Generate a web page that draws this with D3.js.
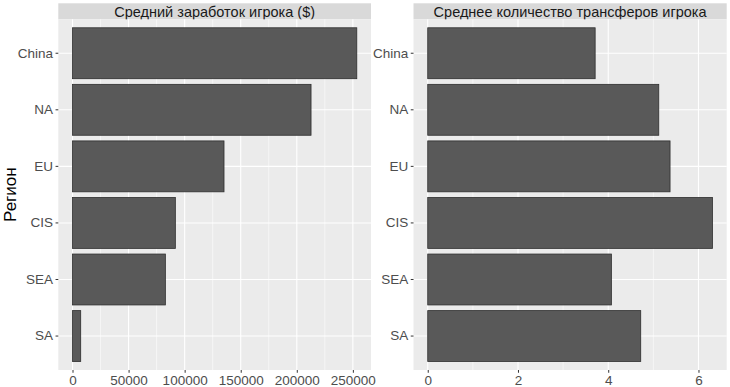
<!DOCTYPE html>
<html>
<head>
<meta charset="utf-8">
<script src="https://cdnjs.cloudflare.com/ajax/libs/d3/7.8.5/d3.min.js"></script>
<style>
    body { margin: 0; background: #fff; }
    svg { display: block; font-family: "Liberation Sans", Arial, sans-serif; }
    .axis path { display: none; }
    .axis line { stroke: #333333; stroke-width: 1; }
    .axis text { fill: #4d4d4d; font-size: 13.5px; }
</style>
</head>
<body>
<div id="chart"></div>
<script>
// regions, top to bottom
const regions = ["China", "NA", "EU", "CIS", "SEA", "SA"];

// average player earnings ($)
const earnings = [253500, 212700, 135100, 91700, 82800, 7300];

// average number of player transfers
const transfers = [3.71, 5.12, 5.37, 6.31, 4.07, 4.72];

const facetTitles = ["Средний заработок игрока ($)", "Среднее количество трансферов игрока"];
const earningsTicks = [0, 50000, 100000, 150000, 200000, 250000];
const transferTicks = [0, 2, 4, 6];

const width = 730, height = 387;

const svg = d3.select("#chart").append("svg")
    .attr("width", width)
    .attr("height", height);

// shared vertical layout
const stripTop = 3.3, stripH = 16;
const panelTop = stripTop + stripH, panelBottom = 370;

const y = d3.scaleBand()
    .domain(regions)
    .range([panelTop, panelBottom])
    .paddingInner(0.1)
    .paddingOuter(0.15);

// y axis title
svg.append("text")
    .attr("transform", `translate(16,${(panelTop + panelBottom) / 2}) rotate(-90)`)
    .attr("text-anchor", "middle")
    .style("font-size", "17px")
    .style("fill", "#000")
    .text("Регион");

function drawPanel(x0, x1, values, ticks, title) {
    const max = d3.max(values);
    const x = d3.scaleLinear()
        .domain([-0.05 * max, 1.05 * max])
        .range([x0, x1]);

    // strip
    svg.append("rect")
        .attr("x", x0).attr("y", stripTop)
        .attr("width", x1 - x0).attr("height", stripH)
        .attr("fill", "#d9d9d9");
    svg.append("text")
        .attr("x", (x0 + x1) / 2)
        .attr("y", stripTop + stripH / 2)
        .attr("dy", "0.36em")
        .attr("text-anchor", "middle")
        .style("font-size", "14.5px")
        .style("fill", "#1a1a1a")
        .text(title);

    // panel background
    svg.append("rect")
        .attr("x", x0).attr("y", panelTop)
        .attr("width", x1 - x0).attr("height", panelBottom - panelTop)
        .attr("fill", "#ebebeb");

    // minor grid: midpoints between major ticks
    const step = ticks[1] - ticks[0];
    const minor = ticks.map(t => t + step / 2).filter(t => t < x.domain()[1]);
    svg.append("g").selectAll("line")
        .data(minor)
        .join("line")
        .attr("x1", d => x(d)).attr("x2", d => x(d))
        .attr("y1", panelTop).attr("y2", panelBottom)
        .attr("stroke", "#fff").attr("stroke-width", 0.55);

    // major grid
    svg.append("g").selectAll("line")
        .data(ticks)
        .join("line")
        .attr("x1", d => x(d)).attr("x2", d => x(d))
        .attr("y1", panelTop).attr("y2", panelBottom)
        .attr("stroke", "#fff").attr("stroke-width", 1.1);

    svg.append("g").selectAll("line")
        .data(regions)
        .join("line")
        .attr("x1", x0).attr("x2", x1)
        .attr("y1", d => y(d) + y.bandwidth() / 2)
        .attr("y2", d => y(d) + y.bandwidth() / 2)
        .attr("stroke", "#fff").attr("stroke-width", 1.1);

    // bars
    svg.append("g").selectAll("rect")
        .data(regions.map((r, i) => ({region: r, value: values[i]})))
        .join("rect")
        .attr("x", x(0))
        .attr("y", d => y(d.region))
        .attr("width", d => x(d.value) - x(0))
        .attr("height", y.bandwidth())
        .attr("fill", "#595959")
        .attr("stroke", "#2e2e2e")
        .attr("stroke-width", 0.8);

    // axes
    svg.append("g")
        .attr("class", "axis")
        .attr("transform", `translate(0,${panelBottom})`)
        .call(d3.axisBottom(x).tickValues(ticks).tickFormat(d3.format("d"))
            .tickSize(2.75).tickPadding(2.5));

    svg.append("g")
        .attr("class", "axis")
        .attr("transform", `translate(${x0},0)`)
        .call(d3.axisLeft(y).tickSize(2.75).tickPadding(2.5));
}

drawPanel(58.3, 371, earnings, earningsTicks, facetTitles[0]);
drawPanel(413.5, 726.7, transfers, transferTicks, facetTitles[1]);
</script>
</body>
</html>
